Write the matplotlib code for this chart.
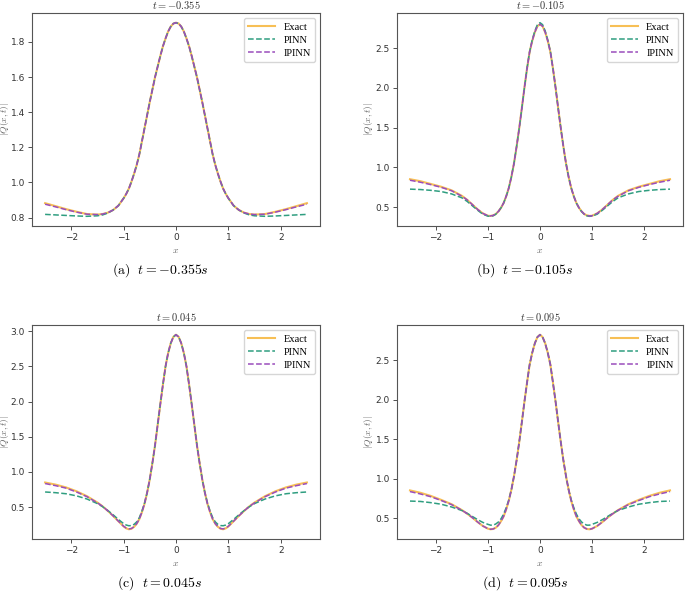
import numpy as np
import matplotlib
matplotlib.use("Agg")
import matplotlib.pyplot as plt

plt.rcParams['mathtext.fontset'] = 'cm'

# half grid (x >= 0); curves are mirrored to x < 0
x_half = [0.0, 0.05, 0.1, 0.15, 0.2, 0.25, 0.3, 0.35, 0.4, 0.45, 0.5, 0.55, 0.6, 0.65,
          0.7, 0.75, 0.8, 0.85, 0.9, 0.95, 1.0, 1.1, 1.2, 1.3, 1.4, 1.5, 1.7, 1.9,
          2.1, 2.3, 2.5]

times = ["-0.355", "-0.105", "0.045", "0.095"]
letters = ["a", "b", "c", "d"]

exact_a = [1.91, 1.905, 1.888, 1.86, 1.82, 1.775, 1.72, 1.66, 1.60, 1.53, 1.46, 1.385, 1.31, 1.235,
           1.16, 1.10, 1.05, 1.005, 0.965, 0.935, 0.91, 0.868, 0.843, 0.828, 0.82, 0.817, 0.82, 0.833,
           0.848, 0.865, 0.882]
pinn_a = [1.91, 1.905, 1.888, 1.86, 1.82, 1.775, 1.72, 1.66, 1.60, 1.53, 1.46, 1.385, 1.31, 1.235,
          1.16, 1.10, 1.05, 1.005, 0.965, 0.935, 0.91, 0.868, 0.843, 0.826, 0.815, 0.81, 0.807, 0.809,
          0.812, 0.815, 0.818]
ipinn_a = [1.91, 1.905, 1.888, 1.86, 1.82, 1.775, 1.72, 1.66, 1.60, 1.53, 1.46, 1.385, 1.31, 1.235,
           1.16, 1.10, 1.05, 1.005, 0.965, 0.935, 0.91, 0.868, 0.843, 0.828, 0.82, 0.817, 0.819, 0.831,
           0.845, 0.861, 0.876]

exact_b = [2.80, 2.775, 2.70, 2.59, 2.45, 2.24, 2.00, 1.74, 1.49, 1.26, 1.05, 0.88, 0.74, 0.635,
           0.55, 0.49, 0.445, 0.412, 0.395, 0.388, 0.39, 0.42, 0.47, 0.53, 0.59, 0.64, 0.71, 0.755,
           0.79, 0.825, 0.85]
pinn_b = [2.82, 2.795, 2.715, 2.60, 2.455, 2.24, 2.00, 1.74, 1.49, 1.26, 1.05, 0.88, 0.74, 0.635,
          0.55, 0.49, 0.443, 0.41, 0.39, 0.383, 0.385, 0.41, 0.46, 0.515, 0.57, 0.615, 0.665, 0.695,
          0.71, 0.72, 0.725]
ipinn_b = [2.80, 2.775, 2.70, 2.59, 2.45, 2.24, 2.00, 1.74, 1.49, 1.26, 1.05, 0.88, 0.74, 0.635,
           0.55, 0.49, 0.445, 0.412, 0.395, 0.388, 0.39, 0.42, 0.47, 0.53, 0.59, 0.635, 0.705, 0.748,
           0.782, 0.812, 0.837]

exact_c = [2.95, 2.92, 2.83, 2.69, 2.50, 2.24, 1.96, 1.67, 1.38, 1.13, 0.90, 0.71, 0.55, 0.43,
           0.33, 0.265, 0.22, 0.193, 0.185, 0.198, 0.225, 0.30, 0.375, 0.445, 0.51, 0.565, 0.655, 0.725,
           0.78, 0.82, 0.85]
pinn_c = [2.95, 2.92, 2.83, 2.69, 2.50, 2.24, 1.96, 1.67, 1.38, 1.13, 0.90, 0.71, 0.56, 0.445,
          0.35, 0.29, 0.255, 0.238, 0.235, 0.245, 0.265, 0.325, 0.39, 0.45, 0.505, 0.55, 0.615, 0.66,
          0.69, 0.705, 0.715]
ipinn_c = [2.95, 2.92, 2.83, 2.69, 2.50, 2.24, 1.96, 1.67, 1.38, 1.13, 0.90, 0.71, 0.55, 0.43,
           0.33, 0.265, 0.222, 0.196, 0.19, 0.202, 0.228, 0.30, 0.375, 0.445, 0.51, 0.56, 0.648, 0.715,
           0.77, 0.805, 0.835]

exact_d = [2.82, 2.79, 2.71, 2.59, 2.44, 2.21, 1.97, 1.71, 1.46, 1.23, 1.03, 0.86, 0.72, 0.61,
           0.52, 0.46, 0.41, 0.378, 0.362, 0.358, 0.365, 0.40, 0.45, 0.505, 0.555, 0.60, 0.675, 0.73,
           0.78, 0.82, 0.85]
pinn_d = [2.82, 2.79, 2.71, 2.59, 2.44, 2.21, 1.97, 1.71, 1.46, 1.23, 1.03, 0.86, 0.73, 0.63,
          0.55, 0.49, 0.45, 0.425, 0.41, 0.41, 0.42, 0.445, 0.48, 0.52, 0.56, 0.595, 0.64, 0.675,
          0.695, 0.71, 0.715]
ipinn_d = [2.82, 2.79, 2.71, 2.59, 2.44, 2.21, 1.97, 1.71, 1.46, 1.23, 1.03, 0.86, 0.72, 0.61,
           0.52, 0.46, 0.41, 0.378, 0.362, 0.358, 0.365, 0.40, 0.45, 0.505, 0.555, 0.598, 0.67, 0.722,
           0.77, 0.805, 0.835]

panels = [(exact_a, pinn_a, ipinn_a), (exact_b, pinn_b, ipinn_b),
          (exact_c, pinn_c, ipinn_c), (exact_d, pinn_d, ipinn_d)]

c_exact = '#f7bf55'
c_pinn = '#2f9e80'
c_ipinn = '#9a4dbc'


def full(xh, yh):
    xh = np.asarray(xh)
    yh = np.asarray(yh)
    return np.concatenate([-xh[:0:-1], xh]), np.concatenate([yh[:0:-1], yh])


W, H = 685, 599
fig = plt.figure(figsize=(W / 100, H / 100), dpi=100)

boxes = [(32, 13, 320, 226), (397, 13, 683, 226),
         (32, 325, 320, 539), (397, 325, 683, 539)]
cap_pos = [(160, 270), (525, 270), (160, 583), (525, 583)]
ylab_off = [-20.5, -22.5, -20.5, -22.5]

for i, (ex, pn, ip) in enumerate(panels):
    l, t, r, b = boxes[i]
    ax = fig.add_axes([l / W, 1 - b / H, (r - l) / W, (b - t) / H])
    x, y = full(x_half, ex)
    ax.plot(x, y, color=c_exact, lw=1.5, label='Exact')
    x, y = full(x_half, pn)
    ax.plot(x, y, color=c_pinn, lw=1.1, ls='--', label='PINN')
    x, y = full(x_half, ip)
    ax.plot(x, y, color=c_ipinn, lw=1.1, ls='--', label='IPINN')
    ax.set_xlim(-2.75, 2.75)
    ax.tick_params(labelsize=6.5, length=3, width=0.6, colors='#333333', pad=2)
    for s in ax.spines.values():
        s.set_color('#555555')
        s.set_linewidth(0.8)
    ax.set_title(f'$t = {times[i]}$', fontsize=7.5, pad=3, color='#333333')
    ax.set_xlabel('$x$', fontsize=7, color='#666666', labelpad=2)
    ax.set_ylabel('$|Q(x,t)|$', fontsize=6.8, color='#666666')
    ax.yaxis.set_label_coords(ylab_off[i] / (r - l), 0.5)
    ax.legend(loc='upper right', prop={'family': 'Liberation Serif', 'size': 7.5},
              handlelength=2.6, borderpad=0.4, labelspacing=0.35, fancybox=True)
    cx, cy = cap_pos[i]
    fig.text(cx / W, 1 - cy / H, rf'$\mathrm{{({letters[i]})}}\ \ t = {times[i]}s$',
             ha='center', va='center', fontsize=10)

fig.savefig('out.png', dpi=100)
